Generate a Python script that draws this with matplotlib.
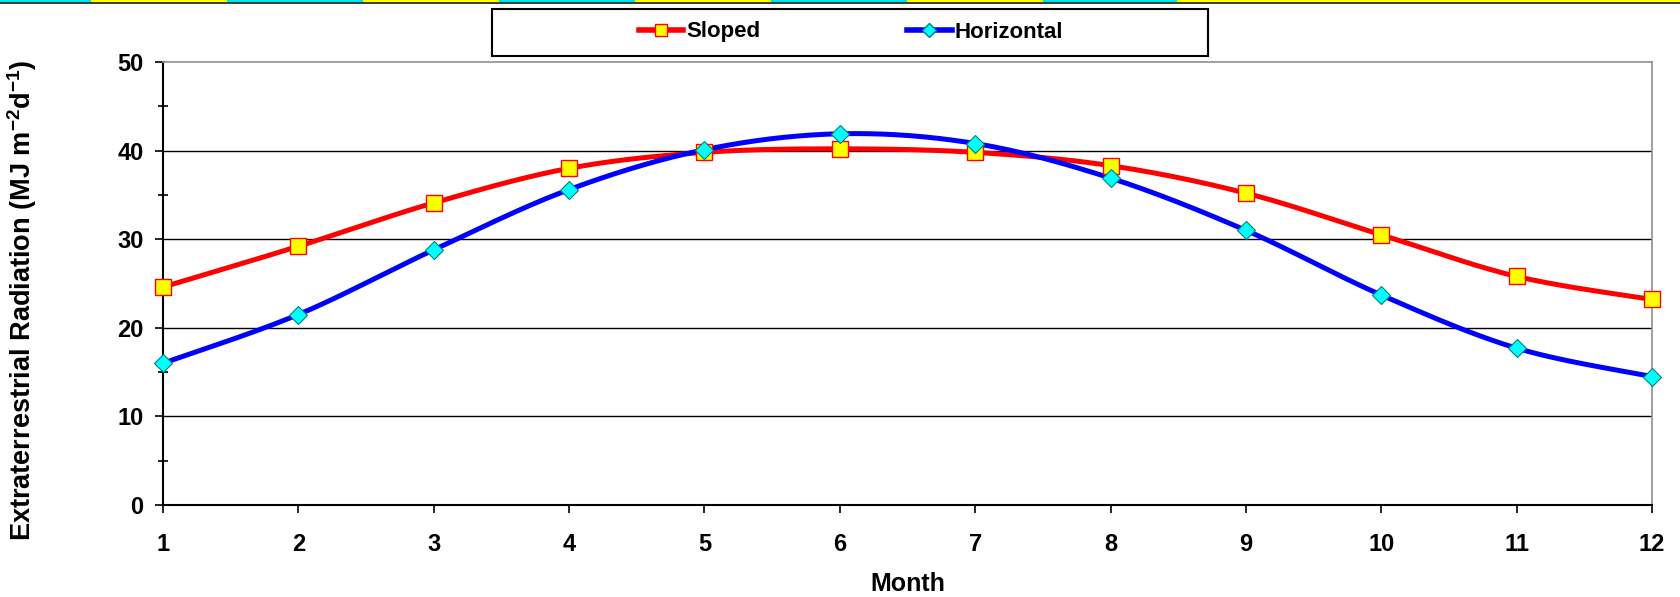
import numpy as np
import matplotlib
matplotlib.use("Agg")
import matplotlib.pyplot as plt
from matplotlib.patches import Rectangle
from matplotlib.lines import Line2D

months = [1, 2, 3, 4, 5, 6, 7, 8, 9, 10, 11, 12]
sloped = [24.6, 29.2, 34.1, 38.0, 39.8, 40.2, 39.8, 38.3, 35.2, 30.5, 25.8, 23.2]
horizontal = [16.0, 21.5, 28.8, 35.6, 40.1, 41.9, 40.8, 36.9, 31.0, 23.7, 17.7, 14.5]
yticks = [0, 10, 20, 30, 40, 50]
series_names = ["Sloped", "Horizontal"]

plt.rcParams['font.family'] = ['Liberation Sans', 'DejaVu Sans']
plt.rcParams['font.weight'] = 'bold'
plt.rcParams['mathtext.default'] = 'bf'
plt.rcParams['mathtext.fontset'] = 'custom'
plt.rcParams['mathtext.bf'] = 'Liberation Sans:bold'
plt.rcParams['mathtext.rm'] = 'Liberation Sans'


def smooth(x, y, n=30):
    # Catmull-Rom style smoothing like spreadsheet "smoothed line"
    x = np.asarray(x, float)
    y = np.asarray(y, float)
    px = np.concatenate([[x[0]], x, [x[-1]]])
    py = np.concatenate([[y[0]], y, [y[-1]]])
    xs, ys = [], []
    t = np.linspace(0, 1, n)
    for i in range(1, len(px) - 2):
        p0x, p1x, p2x, p3x = px[i - 1], px[i], px[i + 1], px[i + 2]
        p0y, p1y, p2y, p3y = py[i - 1], py[i], py[i + 1], py[i + 2]
        c1x = p1x + (p2x - p0x) / 6
        c1y = p1y + (p2y - p0y) / 6
        c2x = p2x - (p3x - p1x) / 6
        c2y = p2y - (p3y - p1y) / 6
        bx = (1 - t) ** 3 * p1x + 3 * (1 - t) ** 2 * t * c1x + 3 * (1 - t) * t ** 2 * c2x + t ** 3 * p2x
        by = (1 - t) ** 3 * p1y + 3 * (1 - t) ** 2 * t * c1y + 3 * (1 - t) * t ** 2 * c2y + t ** 3 * p2y
        xs.extend(bx)
        ys.extend(by)
    return np.array(xs), np.array(ys)


W, H = 1681, 597
fig = plt.figure(figsize=(W / 100, H / 100), dpi=100)
ax = fig.add_axes([163 / W, 1 - 505 / H, (1652 - 163) / W, (505 - 62) / H])

ax.set_xlim(1, 12)
ax.set_ylim(0, 50)

for v in yticks[1:-1]:
    ax.axhline(v, color='black', lw=1.0, zorder=1)

sx, sy = smooth(months, sloped)
hx, hy = smooth(months, horizontal)
ax.plot(sx, sy, color='#FF0000', lw=3.6, zorder=3, clip_on=False)
ax.plot(hx, hy, color='#0000FF', lw=3.6, zorder=3, clip_on=False)
ax.plot(months, sloped, ls='none', marker='s', ms=11.5, mfc='#FFFF00', mec='#FF0000', mew=1.0, zorder=4, clip_on=False)
ax.plot(months, horizontal, ls='none', marker='D', ms=9.5, mfc='#00FFFF', mec='#008080', mew=0.8, zorder=4, clip_on=False)

ax.set_xticks(months)
ax.set_xticklabels([str(m) for m in months])
ax.set_yticks(yticks)
ax.set_yticks([5, 15, 25, 35, 45], minor=True)
ax.tick_params(axis='y', which='major', direction='out', length=6, width=1.2, labelsize=17, pad=8)
ax.tick_params(axis='y', which='minor', direction='inout', length=7, width=1.2)
ax.tick_params(axis='x', which='major', direction='out', length=6, width=1.2, labelsize=17, pad=14)

for sp in ['left', 'bottom']:
    ax.spines[sp].set_color('black')
    ax.spines[sp].set_linewidth(1.5)
for sp in ['top', 'right']:
    ax.spines[sp].set_color('#909090')
    ax.spines[sp].set_linewidth(1.2)

ax.set_xlabel('Month', fontsize=18, fontweight='bold', labelpad=12)
fig.text(22 / W, 1 - 300 / H, 'Extraterrestrial Radiation (MJ m$^{-2}$d$^{-1}$)', rotation=90,
         ha='center', va='center', fontsize=19.5, fontweight='bold')

# legend box
fig.patches.append(Rectangle((492 / W, 1 - 56 / H), (1208 - 492) / W, (56 - 9) / H,
                             transform=fig.transFigure, fill=False, edgecolor='black', lw=1.5))
handles = [
    Line2D([], [], color='#FF0000', lw=4, marker='s', ms=9, mfc='#FFFF00', mec='#FF0000'),
    Line2D([], [], color='#0000FF', lw=4, marker='D', ms=7, mfc='#00FFFF', mec='#008080'),
]
fig.legend(handles, series_names, loc='center', bbox_to_anchor=(851 / W, 1 - 32 / H), ncol=2,
           frameon=False, handlelength=2.0, handletextpad=0.15, columnspacing=6.6,
           prop={'weight': 'bold', 'size': 16})

# top decorative stripe
seg = 136
colors = ['#00E5E5', '#FFFF00']
i = 0
x = 0
while x < W:
    if x >= 1177:
        c = '#FFFF00'
        w = W - x
    else:
        c = colors[i % 2]
        w = 91 if i == 0 else seg
        if x + w > 1177 and c == '#00E5E5':
            w = 1177 - x
    fig.patches.append(Rectangle((x / W, 1 - 2 / H), w / W, 2 / H, transform=fig.transFigure,
                                 facecolor=c, edgecolor='none'))
    x += w
    i += 1
fig.patches.append(Rectangle((0, 1 - 3.5 / H), 1, 1.5 / H, transform=fig.transFigure,
                             facecolor='#404040', edgecolor='none'))

fig.savefig('out.png', dpi=100)
